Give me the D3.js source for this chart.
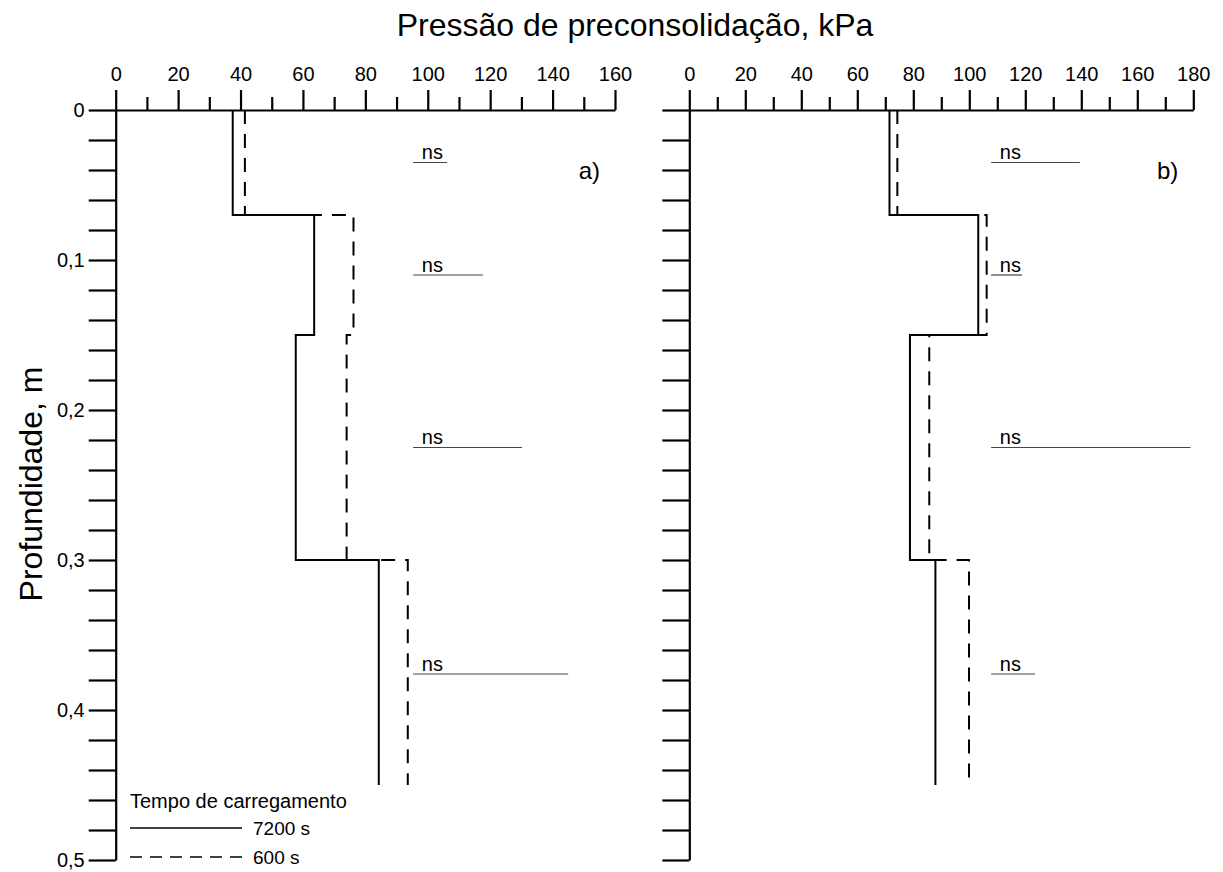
<!DOCTYPE html>
<html>
<head>
<meta charset="utf-8">
<script src="https://cdnjs.cloudflare.com/ajax/libs/d3/7.8.5/d3.min.js"></script>
<style>
  body { margin: 0; background: #fff; }
  svg text { font-family: "Liberation Sans", Arial, sans-serif; fill: #000; }
</style>
</head>
<body>
<div id="chart"></div>
<script>
// camadas de profundidade (m)
const depthBreaks = [0, 0.07, 0.15, 0.30, 0.45];

// pressão de preconsolidação (kPa) por camada
const panelA7200 = [37.5, 63.6, 57.7, 84.3];
const panelA600 = [41.4, 76.2, 74.0, 93.6];
const panelB7200 = [71.5, 103.2, 78.8, 87.9];
const panelB600 = [74.3, 106.2, 85.7, 99.9];

// linhas "ns" (profundidade, início e fim em kPa)
const nsDepths = [0.035, 0.11, 0.225, 0.376];
const nsA = [[95.3, 106.2], [95.3, 117.7], [95.3, 130.2], [95.3, 145]];
const nsB = [[107.8, 139.5], [107.8, 118.8], [107.8, 179], [107.8, 123.5]];

const xTicksA = d3.range(0, 161, 10);
const xTicksB = d3.range(0, 181, 10);
const yTicks = d3.range(0, 0.5001, 0.02).map(d => +d.toFixed(2));

const legendTitle = "Tempo de carregamento";
const legendLabels = ["7200 s", "600 s"];

document.addEventListener("DOMContentLoaded", function () {
    const width = 1223, height = 872;

    const svg = d3.select("#chart")
        .append("svg")
        .attr("width", width)
        .attr("height", height);

    const y = d3.scaleLinear().domain([0, 0.5]).range([110, 860]);

    const panels = [
        { x: d3.scaleLinear().domain([0, 160]).range([115.7, 615]), ticks: xTicksA, s1: panelA7200, s2: panelA600, ns: nsA, tag: "a)", labels: true },
        { x: d3.scaleLinear().domain([0, 180]).range([689.3, 1193.3]), ticks: xTicksB, s1: panelB7200, s2: panelB600, ns: nsB, tag: "b)", labels: false }
    ];

    const stepPoints = vals => {
        const pts = [];
        vals.forEach((v, i) => {
            pts.push([v, depthBreaks[i]]);
            pts.push([v, depthBreaks[i + 1]]);
        });
        return pts;
    };

    panels.forEach(p => {
        // eixo y
        const yAxis = d3.axisLeft(y)
            .tickValues(yTicks)
            .tickSize(27)
            .tickSizeOuter(0)
            .tickPadding(4)
            .tickFormat(d => {
                if (!p.labels) return "";
                const r = Math.round(d * 100);
                if (r % 10 !== 0) return "";
                return d === 0 ? "0" : d3.format(".1f")(d).replace(".", ",");
            });

        const gy = svg.append("g")
            .attr("transform", `translate(${p.x(0)},0)`)
            .call(yAxis);
        gy.selectAll("line, path").attr("stroke", "#000").attr("stroke-width", 2.2);
        gy.selectAll("text").attr("font-size", "20px").style("font-family", "Liberation Sans, Arial, sans-serif");

        // eixo x (topo)
        const xAxis = d3.axisTop(p.x)
            .tickValues(p.ticks)
            .tickSize(20)
            .tickSizeOuter(0)
            .tickPadding(9)
            .tickFormat(d => d % 20 === 0 ? d : "");

        const gx = svg.append("g")
            .attr("transform", `translate(0,${y(0)})`)
            .call(xAxis);
        gx.selectAll("line, path").attr("stroke", "#000").attr("stroke-width", 2.2);
        gx.selectAll(".tick line").attr("y2", d => d % 20 === 0 ? -20 : -13);
        gx.selectAll("text").attr("font-size", "20px").style("font-family", "Liberation Sans, Arial, sans-serif");

        const line = d3.line().x(d => p.x(d[0])).y(d => y(d[1]));

        svg.append("path")
            .attr("d", line(stepPoints(p.s1)))
            .attr("fill", "none")
            .attr("stroke", "#000")
            .attr("stroke-width", 2);

        svg.append("path")
            .attr("d", line(stepPoints(p.s2)))
            .attr("fill", "none")
            .attr("stroke", "#000")
            .attr("stroke-width", 2)
            .attr("stroke-dasharray", "14,10");

        // ns
        p.ns.forEach((n, i) => {
            svg.append("line")
                .attr("x1", p.x(n[0]))
                .attr("x2", p.x(n[1]))
                .attr("y1", y(nsDepths[i]))
                .attr("y2", y(nsDepths[i]))
                .attr("stroke", "#444")
                .attr("stroke-width", 1.2);
            svg.append("text")
                .attr("x", p.x(n[0]) + 8.7)
                .attr("y", y(nsDepths[i]) - 3.5)
                .attr("font-size", "20px")
                .text("ns");
        });

        svg.append("text")
            .attr("x", p.x.range()[1] - 15)
            .attr("y", 179)
            .attr("text-anchor", "end")
            .attr("font-size", "24px")
            .text(p.tag);
    });

    // títulos
    svg.append("text")
        .attr("x", 635)
        .attr("y", 36)
        .attr("text-anchor", "middle")
        .attr("font-size", "32px")
        .text("Pressão de preconsolidação, kPa");

    svg.append("text")
        .attr("transform", "translate(42,484) rotate(-90)")
        .attr("text-anchor", "middle")
        .attr("font-size", "32px")
        .text("Profundidade, m");

    // legenda
    const lg = svg.append("g");
    lg.append("text")
        .attr("x", 130)
        .attr("y", 808)
        .attr("font-size", "20px")
        .text(legendTitle);

    legendLabels.forEach((lab, i) => {
        const ly = 828 + i * 29;
        lg.append("line")
            .attr("x1", 130).attr("x2", 242)
            .attr("y1", ly).attr("y2", ly)
            .attr("stroke", "#000")
            .attr("stroke-width", 1.5)
            .attr("stroke-dasharray", i === 0 ? null : "12,8");
        lg.append("text")
            .attr("x", 253)
            .attr("y", ly + 7)
            .attr("font-size", "19px")
            .text(lab);
    });
});
</script>
</body>
</html>
